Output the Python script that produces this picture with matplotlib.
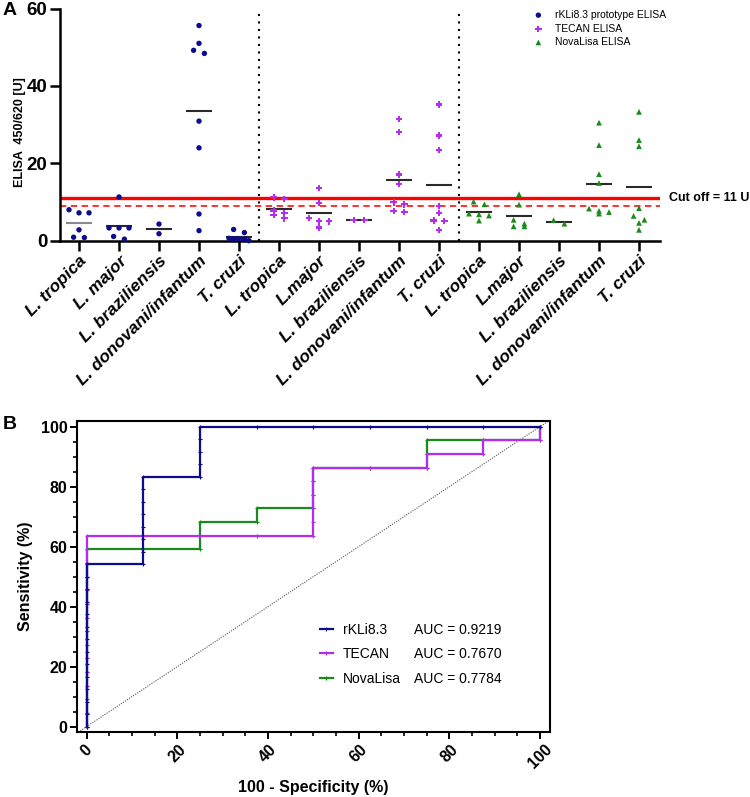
import numpy as np
import matplotlib
matplotlib.use("Agg")
import matplotlib.pyplot as plt
from matplotlib.ticker import MultipleLocator
from matplotlib.transforms import ScaledTranslation, blended_transform_factory

plt.rcParams['font.family'] = ['Liberation Sans', 'DejaVu Sans']

# ---------------- data: panel A ----------------
categories = ['L. tropica', 'L. major', 'L. braziliensis', 'L. donovani/infantum', 'T. cruzi',
              'L. tropica', 'L.major', 'L. braziliensis', 'L. donovani/infantum', 'T. cruzi',
              'L. tropica', 'L.major', 'L. braziliensis', 'L. donovani/infantum', 'T. cruzi']
assays = ['rKLi8.3 prototype ELISA', 'TECAN ELISA', 'NovaLisa ELISA']

rkli_tropica = [8.0, 7.2, 7.2, 2.8, 0.9, 0.8]
rkli_major = [11.3, 3.3, 3.3, 3.3, 1.1, 0.4]
rkli_braz = [4.3, 1.8]
rkli_donov = [55.6, 51.0, 49.2, 48.4, 30.9, 24.0, 6.9, 2.6]
rkli_cruzi = [2.9, 2.1, 0.6, 0.5, 0.5, 0.4, 0.4, 0.0]

tecan_tropica = [11.2, 10.8, 7.8, 7.2, 6.6, 5.8]
tecan_major = [13.6, 9.8, 5.9, 5.1, 5.0, 3.4]
tecan_braz = [5.4, 5.3]
tecan_donov = [31.5, 28.1, 17.1, 14.7, 9.9, 9.4, 7.7, 7.4]
tecan_cruzi = [35.2, 27.2, 23.5, 9.0, 7.1, 5.2, 5.1, 2.8]

nova_tropica = [10.1, 9.4, 7.0, 6.8, 6.5, 5.2]
nova_major = [12.0, 9.3, 5.4, 4.4, 3.7, 3.7]
nova_braz = [5.3, 4.4]
nova_donov = [30.5, 24.7, 17.2, 14.9, 8.3, 7.7, 7.4, 7.0]
nova_cruzi = [33.3, 26.0, 24.4, 8.4, 6.4, 5.4, 4.6, 2.8]

cutoff = 11
borderline = 9
yticks_A = [0, 20, 40, 60]

# ---------------- data: panel B (ROC) ----------------
roc_names = ['rKLi8.3', 'TECAN', 'NovaLisa']
auc_values = [0.9219, 0.7670, 0.7784]

rkli_fpr = [0]*14 + [12.5]*8 + [25]*5 + [37.5, 50, 62.5, 75, 87.5, 100]
rkli_tpr = [0, 4.17, 8.33, 12.5, 16.67, 20.83, 25, 29.17, 33.33, 37.5, 41.67, 45.83, 50, 54.17,
            54.17, 58.33, 62.5, 66.67, 70.83, 75, 79.17, 83.33,
            83.33, 87.5, 91.67, 95.83, 100,
            100, 100, 100, 100, 100, 100]

tecan_fpr = [0]*15 + [12.5, 25, 37.5] + [50]*6 + [62.5] + [75, 75] + [87.5, 87.5] + [100, 100]
tecan_tpr = [0, 4.55, 9.09, 13.64, 18.18, 22.73, 27.27, 31.82, 36.36, 40.91, 45.45, 50, 54.55, 59.09, 63.64,
             63.64, 63.64, 63.64,
             63.64, 68.18, 72.73, 77.27, 81.82, 86.36,
             86.36, 86.36, 90.91, 90.91, 95.45, 95.45, 100]

nova_fpr = [0]*14 + [12.5] + [25]*3 + [37.5]*2 + [50]*4 + [62.5] + [75]*3 + [87.5] + [100, 100]
nova_tpr = [0, 4.55, 9.09, 13.64, 18.18, 22.73, 27.27, 31.82, 36.36, 40.91, 45.45, 50, 54.55, 59.09,
            59.09,
            59.09, 63.64, 68.18,
            68.18, 72.73,
            72.73, 77.27, 81.82, 86.36,
            86.36,
            86.36, 90.91, 95.45,
            95.45, 95.45, 100]

# ---------------- styles ----------------
colors = ['#0c0c8c', '#b52cf0', '#1a8a1a']
marker_shapes = ['o', 'P', '^']
marker_sizes = [15, 22, 17]


def swarm_offsets(vals, tol=1.05, step=0.27, maxw=0.5):
    vals = np.asarray(vals, dtype=float)
    order = np.argsort(-vals, kind='stable')
    offs = np.zeros(len(vals))
    rows = []
    for idx in order:
        if rows and abs(vals[rows[-1][0]] - vals[idx]) <= tol:
            rows[-1].append(idx)
        else:
            rows.append([idx])
    for row in rows:
        n = len(row)
        if n == 1:
            continue
        sp = min(step, maxw / (n - 1))
        for k, idx in enumerate(row):
            offs[idx] = (k - (n - 1) / 2) * sp
    return offs


fig = plt.figure(figsize=(7.5, 7.97), dpi=100)

# ================= Panel A =================
axA = fig.add_axes([0.08, 0.698, 0.8, 0.2913])
groups = [rkli_tropica, rkli_major, rkli_braz, rkli_donov, rkli_cruzi,
          tecan_tropica, tecan_major, tecan_braz, tecan_donov, tecan_cruzi,
          nova_tropica, nova_major, nova_braz, nova_donov, nova_cruzi]

handles = [None, None, None]
for i, vals in enumerate(groups):
    a = i // 5
    offs = swarm_offsets(vals)
    h = axA.scatter(i + offs, vals, s=marker_sizes[a], marker=marker_shapes[a],
                    color=colors[a], edgecolors='none', zorder=4, clip_on=False)
    if handles[a] is None:
        handles[a] = h
    mcol = '#8a8a8a' if i == 0 else '#2a2a2a'
    axA.hlines(np.mean(vals), i - 0.32, i + 0.32, color=mcol, lw=1.5, zorder=3)

axA.axhline(cutoff, color='#ff0000', lw=2.4, zorder=2)
axA.axhline(borderline, color='#ff2020', lw=1.3, ls=(0, (3.5, 2.5)), zorder=2)
for sep in (4.5, 9.5):
    axA.axvline(sep, color='black', lw=1.5, ls=(0, (1, 2.6)), zorder=1)

axA.set_xlim(-0.475, 14.525)
axA.set_ylim(0, 60)
axA.set_yticks(yticks_A)
axA.set_xticks(range(len(categories)))
axA.set_xticklabels(categories, rotation=45, ha='right', va='top', rotation_mode='anchor',
                    fontsize=12.5, fontweight='bold', fontstyle='italic')
for lab in axA.get_xticklabels():
    lab.set_transform(lab.get_transform() + ScaledTranslation(-0.02, -0.03, fig.dpi_scale_trans))
axA.tick_params(axis='y', labelsize=13.5, width=1.8, length=7, pad=2)
axA.tick_params(axis='x', width=1.8, length=7, pad=2)
for lab in axA.get_yticklabels():
    lab.set_fontweight('bold')
for sp in ('top', 'right'):
    axA.spines[sp].set_visible(False)
for sp in ('left', 'bottom'):
    axA.spines[sp].set_linewidth(1.8)
axA.set_ylabel('ELISA  450/620 [U]', fontsize=9, fontweight='bold')
axA.yaxis.set_label_coords(-0.056, 0.468)

axA.text(1.015, cutoff, 'Cut off = 11 U', transform=blended_transform_factory(axA.transAxes, axA.transData),
         ha='left', va='center', fontsize=9, fontweight='bold', clip_on=False)

axA.legend(handles, assays, loc='upper left', bbox_to_anchor=(0.766, 1.03), frameon=False,
           fontsize=7.5, handletextpad=0.6, labelspacing=0.35, borderpad=0.3, markerscale=1.0)

fig.text(0.003, 0.987, 'A', fontsize=14, fontweight='bold', ha='left', va='center')

# ================= Panel B =================
axB = fig.add_axes([0.1031, 0.0812, 0.6302, 0.391])
axB.axline((0, 0), (100, 100), color='#555555', lw=0.8, ls=(0, (1, 1.2)), zorder=1)
roc_data = [(rkli_fpr, rkli_tpr), (tecan_fpr, tecan_tpr), (nova_fpr, nova_tpr)]
lines = [None, None, None]
for k in (2, 1, 0):
    fpr, tpr = roc_data[k]
    ln, = axB.plot(fpr, tpr, color=colors[k], lw=1.6, marker='+', ms=3, mew=0.8,
                   zorder=3 + (2 - k), clip_on=False)
    lines[k] = ln

axB.set_xlim(-2.07, 102.2)
axB.set_ylim(-1.9, 102)
axB.xaxis.set_major_locator(MultipleLocator(20))
axB.xaxis.set_minor_locator(MultipleLocator(5))
axB.yaxis.set_major_locator(MultipleLocator(20))
axB.yaxis.set_minor_locator(MultipleLocator(5))
axB.tick_params(which='major', length=5, width=1.4, labelsize=11.5, pad=2)
axB.tick_params(which='minor', length=3, width=1.2)
for lab in axB.get_xticklabels():
    lab.set_rotation(45)
    lab.set_fontweight('bold')
    lab.set_ha('center')
for lab in axB.get_yticklabels():
    lab.set_fontweight('bold')
for sp in axB.spines.values():
    sp.set_linewidth(1.5)
axB.set_xlabel('100 - Specificity (%)', fontsize=11.5, fontweight='bold', labelpad=6)
axB.set_ylabel('Sensitivity (%)', fontsize=11.5, fontweight='bold', labelpad=6)

legB = axB.legend(lines, roc_names, loc='upper left', bbox_to_anchor=(0.486, 0.391), frameon=False,
                  fontsize=10, handlelength=1.0, handletextpad=0.7, labelspacing=0.75, borderpad=0.4)

fig.text(0.003, 0.4668, 'B', fontsize=14, fontweight='bold', ha='left', va='center')

fig.canvas.draw()
inv = axB.transAxes.inverted()
for txt, auc in zip(legB.get_texts(), auc_values):
    bb = txt.get_window_extent()
    yc = inv.transform((0, (bb.y0 + bb.y1) / 2))[1]
    axB.text(0.712, yc, f'AUC = {auc:.4f}', transform=axB.transAxes, ha='left', va='center', fontsize=10)

fig.savefig('out.png', dpi=100)
